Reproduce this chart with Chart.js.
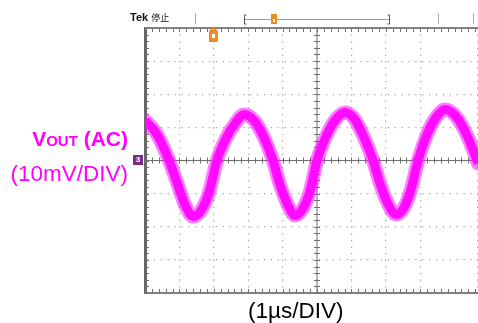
<!DOCTYPE html>
<html>
<head>
<meta charset="utf-8">
<script src="https://cdn.jsdelivr.net/npm/chart.js@4.4.0/dist/chart.umd.min.js"></script>
<style>
  body { margin: 0; background: #fff; }
  #wrap { position: relative; width: 478px; height: 323px; overflow: hidden; font-family: Arial, "Liberation Sans", sans-serif; }
  #scope { position: absolute; left: 0; top: 0; }
  .lbl { position: absolute; white-space: nowrap; line-height: 1; }
  #tek { left: 130px; top: 12px; font-size: 11px; color: #111; }
  #tek span { font-family: "Noto Sans CJK SC", sans-serif; font-size: 9px; }
  #vout { right: 350px; top: 128px; font-size: 21px; font-weight: bold; color: #ff00ff; }
  #vout small { font-size: 15px; }
  #vdiv { right: 350px; top: 163px; font-size: 22.5px; color: #ff00ff; }
  #tdiv { left: 248px; top: 300px; font-size: 22.5px; color: #000; }
  #ch3 { left: 133px; top: 155px; width: 10px; height: 10px; background: #7d2a82; color: #fff;
         font-size: 8px; font-weight: bold; text-align: center; line-height: 10px; }
</style>
</head>
<body>
<div id="wrap">
  <canvas id="scope" width="478" height="323"></canvas>
  <div class="lbl" id="tek"><b>Tek</b> <span>停止</span></div>
  <div class="lbl" id="vout">V<small>OUT</small> (AC)</div>
  <div class="lbl" id="vdiv">(10mV/DIV)</div>
  <div class="lbl" id="tdiv">(1µs/DIV)</div>
  <div class="lbl" id="ch3">3</div>
</div>
<script>
// Trace: time in µs (1 div = 1 µs), VOUT in mV (1 div = 10 mV)
const timeUs = [0.00, 0.35, 0.70, 0.93, 1.16, 1.40, 1.63, 1.86, 2.09, 2.35, 2.62, 2.88, 3.17, 3.46,
                3.72, 3.92, 4.16, 4.36, 4.59, 4.80, 5.00, 5.26, 5.52, 5.81, 6.10, 6.37, 6.63, 6.83,
                7.06, 7.30, 7.53, 7.73, 7.94, 8.20, 8.46, 8.72, 9.04, 9.36, 9.65, 9.68];
const voutMv = [12.1, 7.9, 0.0, -6.6, -13.3, -16.9, -15.1, -9.7, 0.0, 6.6, 11.2, 13.9, 12.1, 6.9,
                0.0, -7.2, -13.6, -16.6, -14.5, -9.1, 0.0, 7.2, 12.1, 14.5, 12.4, 6.9, 0.0, -6.9,
                -13.0, -16.3, -14.2, -8.8, 0.0, 7.9, 13.0, 15.4, 13.3, 7.6, 0.0, -0.9];

// Graticule: 10 x 8 divisions, the screenshot is cut off on the right
const xMin = 0, xMax = 9.68, xCenter = 5;
const yMin = -40, yMax = 40;

const tracePoints = timeUs.map((t, i) => ({ x: t, y: voutMv[i] }));

// center cross, frame and minor ticks like a scope screen
const graticule = {
  id: 'graticule',
  beforeDatasetsDraw(chart) {
    const { ctx, chartArea: a, scales: { x, y } } = chart;
    const cx = x.getPixelForValue(xCenter);
    const cy = y.getPixelForValue(0);
    ctx.save();
    ctx.strokeStyle = '#707070';
    ctx.lineWidth = 1;
    ctx.beginPath();
    ctx.moveTo(a.left, cy); ctx.lineTo(a.right, cy);
    ctx.moveTo(cx, a.top); ctx.lineTo(cx, a.bottom);
    for (let v = xMin; v <= xMax + 0.001; v += 0.2) {
      const px = Math.round(x.getPixelForValue(v)) + 0.5;
      ctx.moveTo(px, cy - 3); ctx.lineTo(px, cy + 3);
      ctx.moveTo(px, a.top); ctx.lineTo(px, a.top + 4);
      ctx.moveTo(px, a.bottom); ctx.lineTo(px, a.bottom - 4);
    }
    for (let v = yMin; v <= yMax + 0.001; v += 2) {
      const py = Math.round(y.getPixelForValue(v)) + 0.5;
      ctx.moveTo(cx - 3, py); ctx.lineTo(cx + 3, py);
      ctx.moveTo(a.left, py); ctx.lineTo(a.left + 4, py);
    }
    ctx.stroke();
    // top frame
    ctx.strokeStyle = '#808080';
    ctx.lineWidth = 2;
    ctx.beginPath();
    ctx.moveTo(a.left, a.top); ctx.lineTo(a.right, a.top);
    ctx.stroke();
    ctx.restore();
  },
  afterDraw(chart) {
    const { ctx } = chart;
    ctx.save();
    // header bar: record-length bracket and small marks
    ctx.strokeStyle = '#b0b0b0';
    ctx.lineWidth = 1;
    ctx.beginPath();
    [195.5, 438.5, 473.5].forEach(px => { ctx.moveTo(px, 13); ctx.lineTo(px, 24); });
    ctx.stroke();
    ctx.strokeStyle = '#555';
    ctx.beginPath();
    ctx.moveTo(246.5, 15); ctx.lineTo(244.5, 15); ctx.lineTo(244.5, 24); ctx.lineTo(246.5, 24);
    ctx.moveTo(387.5, 15); ctx.lineTo(389.5, 15); ctx.lineTo(389.5, 24); ctx.lineTo(387.5, 24);
    ctx.stroke();
    ctx.strokeStyle = '#c77fd0';
    ctx.beginPath();
    ctx.moveTo(245, 19.5); ctx.lineTo(389, 19.5);
    ctx.stroke();
    // orange trigger markers
    ctx.fillStyle = '#f08a24';
    ctx.fillRect(271, 14, 6, 10);
    ctx.fillRect(209, 31, 9, 11);
    ctx.beginPath();
    ctx.moveTo(209, 31); ctx.lineTo(213.5, 27); ctx.lineTo(218, 31);
    ctx.fill();
    ctx.fillStyle = '#fff';
    ctx.fillRect(273, 19, 2, 3);
    ctx.fillRect(212, 34, 3, 4);
    ctx.restore();
  }
};

const ctx = document.getElementById('scope').getContext('2d');
new Chart(ctx, {
  type: 'line',
  data: {
    datasets: [
      { // fuzzy edge of the noisy trace
        data: tracePoints,
        borderColor: 'rgba(255, 20, 255, 0.55)',
        borderWidth: 14,
        pointRadius: 0,
        cubicInterpolationMode: 'monotone',
        borderCapStyle: 'round'
      },
      {
        data: tracePoints,
        borderColor: '#ff00ff',
        borderWidth: 9,
        pointRadius: 0,
        cubicInterpolationMode: 'monotone'
      }
    ]
  },
  options: {
    responsive: false,
    animation: false,
    events: [],
    layout: { padding: { left: 145, top: 28, right: 0, bottom: 30 } },
    plugins: { legend: { display: false }, tooltip: { enabled: false } },
    scales: {
      x: {
        type: 'linear',
        min: xMin,
        max: xMax,
        ticks: { display: false, stepSize: 1 },
        grid: { color: '#a0a0a0', lineWidth: 1.2, drawTicks: false },
        border: { display: true, color: '#808080', width: 2, dash: [1.2, 5.42] }
      },
      y: {
        min: yMin,
        max: yMax,
        ticks: { display: false, stepSize: 10 },
        grid: { color: '#a0a0a0', lineWidth: 1.2, drawTicks: false },
        border: { display: true, color: '#666', width: 3, dash: [1.2, 5.68] }
      }
    }
  },
  plugins: [graticule]
});
</script>
</body>
</html>
